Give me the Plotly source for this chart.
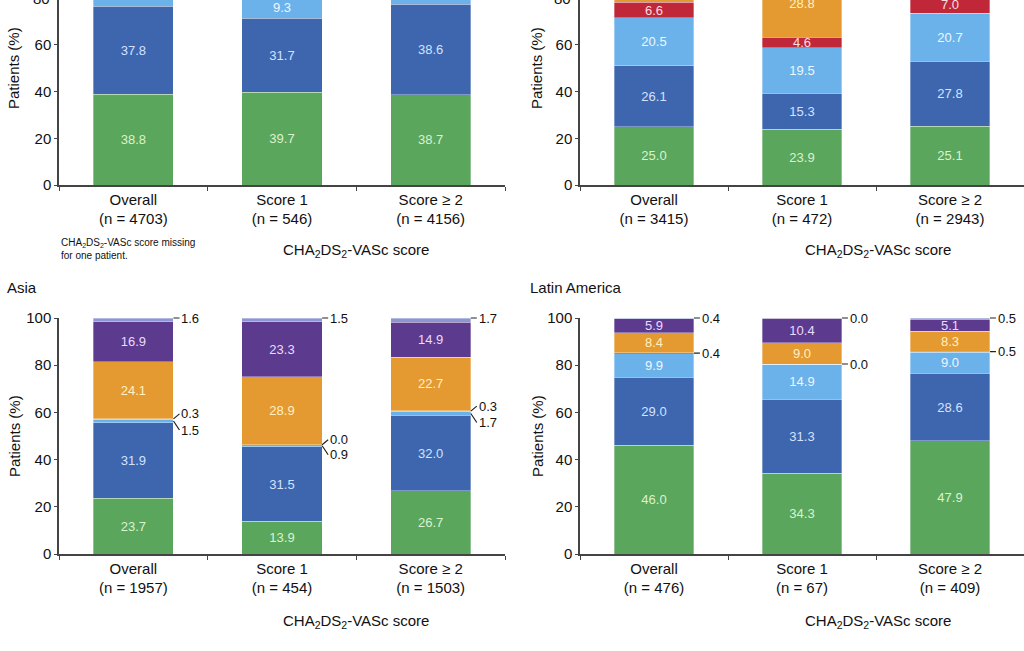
import plotly.graph_objects as go

# ---------------- data ----------------
groups = ["Overall", "Score 1", "Score ≥ 2"]

n_europe = [4703, 546, 4156]
n_namerica = [3415, 472, 2943]
n_asia = [1957, 454, 1503]
n_latam = [476, 67, 409]

series_names = ["Series 1", "Series 2", "Series 3", "Series 4", "Series 5", "Series 6", "Series 7"]

# panel 1 (top-left, top part cropped: upper segments estimated)
europe_s1 = [38.8, 39.7, 38.7]
europe_s2 = [37.8, 31.7, 38.6]
europe_s3 = [10.1, 9.3, 10.2]
europe_s4 = [1.3, 1.0, 1.4]
europe_s5 = [6.3, 6.4, 6.2]
europe_s6 = [4.9, 11.2, 4.1]
europe_s7 = [0.8, 0.7, 0.8]

# panel 2 (top-right, top part cropped: upper segments estimated)
namerica_s1 = [25.0, 23.9, 25.1]
namerica_s2 = [26.1, 15.3, 27.8]
namerica_s3 = [20.5, 19.5, 20.7]
namerica_s4 = [6.6, 4.6, 7.0]
namerica_s5 = [14.0, 28.8, 12.6]
namerica_s6 = [6.9, 7.2, 5.9]
namerica_s7 = [0.9, 0.7, 0.9]

# Asia
asia_s1 = [23.7, 13.9, 26.7]
asia_s2 = [31.9, 31.5, 32.0]
asia_s3 = [1.5, 0.9, 1.7]
asia_s4 = [0.3, 0.0, 0.3]
asia_s5 = [24.1, 28.9, 22.7]
asia_s6 = [16.9, 23.3, 14.9]
asia_s7 = [1.6, 1.5, 1.7]

# Latin America
latam_s1 = [46.0, 34.3, 47.9]
latam_s2 = [29.0, 31.3, 28.6]
latam_s3 = [9.9, 14.9, 9.0]
latam_s4 = [0.4, 0.0, 0.5]
latam_s5 = [8.4, 9.0, 8.3]
latam_s6 = [5.9, 10.4, 5.1]
latam_s7 = [0.4, 0.0, 0.5]

y_ticks = [0, 20, 40, 60, 80, 100]

# ---------------- styling ----------------
colors = ["#5aa65c", "#3d66ae", "#6cb2ea", "#c0283a", "#e49a30", "#5c3a8e", "#8e96d2"]
text_colors = ["#dcf2cf", "#d3e2ff", "#eef6ff", "#fbdde1", "#fff0c2", "#eadcff", "#ffffff"]
FONT = "Arial, 'Liberation Sans', Helvetica, sans-serif"
AX_COLOR = "#444444"

W, H = 1024, 651
panels = [
    dict(name="p1", n=n_europe,
         data=[europe_s1, europe_s2, europe_s3, europe_s4, europe_s5, europe_s6, europe_s7],
         xdom=[59 / W, 505 / W], ydom=[1 - 185 / H, 1.0], yr=[0, 79.2]),
    dict(name="p2", n=n_namerica,
         data=[namerica_s1, namerica_s2, namerica_s3, namerica_s4, namerica_s5, namerica_s6, namerica_s7],
         xdom=[580 / W, 1.0], ydom=[1 - 185 / H, 1.0], yr=[0, 79.2]),
    dict(name="p3", n=n_asia,
         data=[asia_s1, asia_s2, asia_s3, asia_s4, asia_s5, asia_s6, asia_s7],
         xdom=[59 / W, 505 / W], ydom=[1 - 554 / H, 1 - 318 / H], yr=[0, 100]),
    dict(name="p4", n=n_latam,
         data=[latam_s1, latam_s2, latam_s3, latam_s4, latam_s5, latam_s6, latam_s7],
         xdom=[580 / W, 1.0], ydom=[1 - 554 / H, 1 - 318 / H], yr=[0, 100]),
]

BAR_W = 0.54
fig = go.Figure()
annotations = []

for pi, p in enumerate(panels):
    suffix = "" if pi == 0 else str(pi + 1)
    xa, ya = "x" + suffix, "y" + suffix
    cats = [f"{g}<br>(n = {n})" for g, n in zip(groups, p["n"])]
    for si, vals in enumerate(p["data"]):
        fig.add_trace(go.Bar(
            x=cats, y=vals, name=series_names[si], xaxis=xa, yaxis=ya,
            width=BAR_W, showlegend=False,
            marker=dict(color=colors[si], line=dict(color="rgba(255,255,255,0.55)", width=0.6)),
            text=[f"{v:.1f}" if v >= 3 else " " for v in vals],
            textposition="inside", insidetextanchor="middle", textangle=0,
            constraintext="none", cliponaxis=True,
            textfont=dict(family=FONT, size=13, color=text_colors[si]),
            hoverinfo="skip",
        ))
    fig.layout["xaxis" + suffix] = dict(
        domain=p["xdom"], anchor=ya, type="category", range=[-0.5, 2.5],
        showline=True, linecolor=AX_COLOR, linewidth=1.5, automargin=False,
        ticks="outside", tickson="boundaries", ticklen=4, tickcolor=AX_COLOR, tickwidth=1.2,
        showgrid=False, zeroline=False, fixedrange=True,
        tickfont=dict(family=FONT, size=15, color="#111111"),
    )
    fig.layout["yaxis" + suffix] = dict(
        domain=p["ydom"], anchor=xa, range=p["yr"], tickvals=y_ticks,
        showline=True, linecolor=AX_COLOR, linewidth=1.5, automargin=False,
        ticks="outside", ticklen=3, tickcolor=AX_COLOR, tickwidth=1.2,
        showgrid=False, zeroline=False, fixedrange=True,
        tickfont=dict(family=FONT, size=15, color="#111111"),
    )

    # small-value call-outs for the fully visible (bottom) panels
    if pi >= 2:
        d = p["data"]
        for gi in range(3):
            edge = gi + BAR_W / 2
            annotations.append(dict(
                xref=xa, yref=ya, x=edge, y=100, text=f"{d[6][gi]:.1f}",
                showarrow=True, arrowhead=0, arrowwidth=1.2, arrowcolor="#222",
                ax=6, ay=0, xanchor="left", yanchor="middle",
                font=dict(family=FONT, size=13, color="#111")))
            base = d[0][gi] + d[1][gi]
            if pi == 2:
                annotations.append(dict(
                    xref=xa, yref=ya, x=edge, y=base + d[2][gi] + d[3][gi] / 2,
                    text=f"{d[3][gi]:.1f}", showarrow=True, arrowhead=0,
                    arrowwidth=1.2, arrowcolor="#222", ax=6, ay=-5,
                    xanchor="left", yanchor="middle",
                    font=dict(family=FONT, size=13, color="#111")))
                annotations.append(dict(
                    xref=xa, yref=ya, x=edge, y=base + d[2][gi] / 2,
                    text=f"{d[2][gi]:.1f}", showarrow=True, arrowhead=0,
                    arrowwidth=1.2, arrowcolor="#222", ax=6, ay=9,
                    xanchor="left", yanchor="middle",
                    font=dict(family=FONT, size=13, color="#111")))
            else:
                annotations.append(dict(
                    xref=xa, yref=ya, x=edge, y=base + d[2][gi] + d[3][gi] / 2,
                    text=f"{d[3][gi]:.1f}", showarrow=True, arrowhead=0,
                    arrowwidth=1.2, arrowcolor="#222", ax=6, ay=0,
                    xanchor="left", yanchor="middle",
                    font=dict(family=FONT, size=13, color="#111")))

# cropped "80" tick labels at the very top of the upper panels
for xpx in (52, 573):
    annotations.append(dict(xref="paper", yref="paper", x=xpx / W, y=1 + 1.5 / H,
                            text="80", showarrow=False, xanchor="right", yanchor="middle",
                            font=dict(family=FONT, size=15, color="#111")))

# y-axis titles
for xpx, ypx in ((14, 68), (537, 68), (14, 436), (537, 436)):
    annotations.append(dict(xref="paper", yref="paper", x=xpx / W, y=1 - ypx / H,
                            text="Patients (%)", textangle=-90, showarrow=False,
                            xanchor="center", yanchor="middle",
                            font=dict(family=FONT, size=15, color="#111")))

# x-axis titles
xt = "CHA<sub>2</sub>DS<sub>2</sub>-VASc score"
for xpx, ypx in ((356, 250), (878, 250), (356, 621), (878, 621)):
    annotations.append(dict(xref="paper", yref="paper", x=xpx / W, y=1 - ypx / H,
                            text=xt, showarrow=False, xanchor="center", yanchor="middle",
                            font=dict(family=FONT, size=15, color="#111")))

# footnote
annotations.append(dict(xref="paper", yref="paper", x=59 / W, y=1 - 249 / H,
                        text="CHA<sub>2</sub>DS<sub>2</sub>-VASc score missing<br>for one patient.",
                        showarrow=False, xanchor="left", yanchor="middle", align="left",
                        font=dict(family=FONT, size=10, color="#111")))

# panel titles
annotations.append(dict(xref="paper", yref="paper", x=5 / W, y=1 - 287 / H, text="Asia",
                        showarrow=False, xanchor="left", yanchor="middle",
                        font=dict(family=FONT, size=15, color="#111")))
annotations.append(dict(xref="paper", yref="paper", x=528 / W, y=1 - 287 / H, text="Latin America",
                        showarrow=False, xanchor="left", yanchor="middle",
                        font=dict(family=FONT, size=15, color="#111")))

fig.update_layout(
    template="none",
    width=W, height=H, margin=dict(l=0, r=0, t=0, b=0, pad=0, autoexpand=False),
    barmode="stack",
    paper_bgcolor="white", plot_bgcolor="white",
    font=dict(family=FONT, color="#111"),
    annotations=annotations,
)

fig.write_html("out.html", include_plotlyjs=True, full_html=True,
               config={"responsive": False, "displayModeBar": False},
               post_script="document.body.style.margin='0';document.body.style.overflow='hidden';")
